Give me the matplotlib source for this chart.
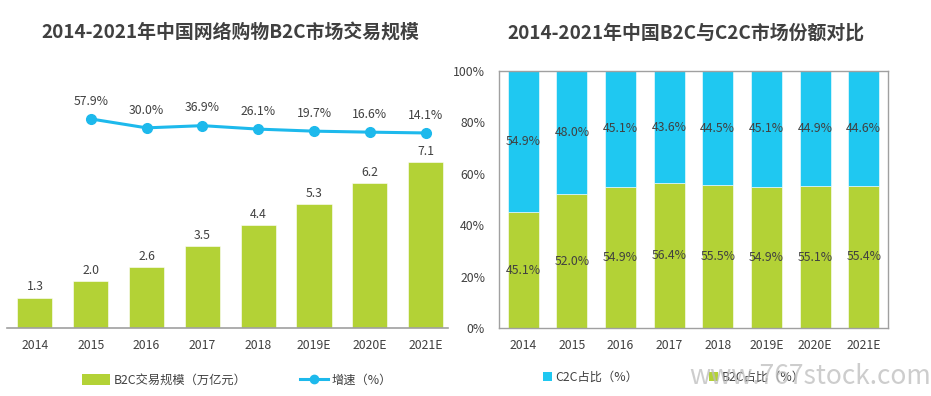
import matplotlib
matplotlib.use("Agg")
import matplotlib.pyplot as plt
from matplotlib.patches import Patch
from matplotlib.lines import Line2D

plt.rcParams['font.family'] = ['Noto Sans CJK SC', 'DejaVu Sans']

years = ['2014', '2015', '2016', '2017', '2018', '2019E', '2020E', '2021E']
b2c_scale = [1.3, 2.0, 2.6, 3.5, 4.4, 5.3, 6.2, 7.1]
growth = [57.9, 30.0, 36.9, 26.1, 19.7, 16.6, 14.1]
growth_years = years[1:]
b2c_share = [45.1, 52.0, 54.9, 56.4, 55.5, 54.9, 55.1, 55.4]
c2c_share = [54.9, 48.0, 45.1, 43.6, 44.5, 45.1, 44.9, 44.6]

GREEN = '#B3D236'
BLUE = '#1FC8F1'
LINE = '#1DB9EC'
TXT = '#404040'
FS = 8.8

W, H = 931, 396
fig = plt.figure(figsize=(W / 100, H / 100), dpi=100)

def box(x0, y0, x1, y1):
    return [x0 / W, 1 - y1 / H, (x1 - x0) / W, (y1 - y0) / H]

# ---------- left chart ----------
ax = fig.add_axes(box(7, 100, 448, 328))
x = list(range(len(years)))
ax.bar(x, b2c_scale, width=0.63, color=GREEN, edgecolor='white', linewidth=0.4, zorder=2)
for xi, v in zip(x, b2c_scale):
    ax.text(xi, v + 0.18, f'{v:.1f}', ha='center', va='bottom', fontsize=FS, color=TXT)
ax.set_xlim(-0.5, 7.4)
ax.set_ylim(0, 9.74)
ax.set_yticks([])
for s in ['top', 'right', 'left']:
    ax.spines[s].set_visible(False)
ax.spines['bottom'].set_color('#A0A0A0')
ax.spines['bottom'].set_linewidth(1.2)
ax.set_xticks(x)
ax.set_xticklabels(years, fontsize=FS, color=TXT)
ax.tick_params(axis='x', length=0, pad=8)

ax2 = ax.twinx()
gx = [years.index(y) for y in growth_years]
ax2.plot(gx, growth, color=LINE, linewidth=2.2, marker='o', markersize=7, zorder=3)
for xi, v in zip(gx, growth):
    ax2.text(xi, v + 35, f'{v:.1f}%', ha='center', va='bottom', fontsize=FS, color=TXT)
ax2.set_ylim(-595, 117)
ax2.set_yticks([])
for s in ['top', 'right', 'left', 'bottom']:
    ax2.spines[s].set_visible(False)

fig.text(230 / W, 1 - 33 / H, '2014-2021年中国网络购物B2C市场交易规模',
         ha='center', va='center', fontsize=13.6, fontweight='bold', color=TXT)

leg1 = [Patch(facecolor=GREEN, edgecolor='none', label='B2C交易规模（万亿元）'),
        Line2D([0], [0], color=LINE, linewidth=2.2, marker='o', markersize=6, label='增速（%）')]
fig.legend(handles=leg1, loc='center', bbox_to_anchor=(237 / W, 1 - 380 / H), ncol=2,
           frameon=False, fontsize=FS, labelcolor=TXT, columnspacing=4.3,
           handlelength=2.3, handleheight=1.0, handletextpad=0.3)

# ---------- right chart ----------
bx = fig.add_axes(box(499, 71, 888, 328))
bx.bar(x, b2c_share, width=0.64, color=GREEN, edgecolor='white', linewidth=0.4, zorder=2)
bx.bar(x, c2c_share, bottom=b2c_share, width=0.64, color=BLUE, edgecolor='white', linewidth=0.4, zorder=2)
for xi, b, c in zip(x, b2c_share, c2c_share):
    bx.text(xi, b / 2, f'{b:.1f}%', ha='center', va='center', fontsize=FS, color=TXT)
    bx.text(xi, b + c / 2, f'{c:.1f}%', ha='center', va='center', fontsize=FS, color=TXT)
bx.set_xlim(-0.5, 7.5)
bx.set_ylim(0, 100)
bx.set_yticks([0, 20, 40, 60, 80, 100])
bx.set_yticklabels(['0%', '20%', '40%', '60%', '80%', '100%'], fontsize=FS, color=TXT)
bx.set_xticks(x)
bx.set_xticklabels(years, fontsize=FS, color=TXT)
bx.tick_params(axis='both', length=0)
bx.tick_params(axis='x', pad=8)
bx.tick_params(axis='y', pad=10)
for s in bx.spines.values():
    s.set_color('#A0A0A0')
    s.set_linewidth(1.0)

fig.text(686 / W, 1 - 33 / H, '2014-2021年中国B2C与C2C市场份额对比',
         ha='center', va='center', fontsize=13.6, fontweight='bold', color=TXT)

leg2 = [Patch(facecolor=BLUE, edgecolor='none', label='C2C占比（%）'),
        Patch(facecolor=GREEN, edgecolor='none', label='B2C占比（%）')]
fig.legend(handles=leg2, loc='center', bbox_to_anchor=(674 / W, 1 - 377 / H), ncol=2,
           frameon=False, fontsize=FS, labelcolor=TXT, columnspacing=5.8,
           handlelength=0.7, handleheight=0.7, handletextpad=0.3)

fig.text(931 / W, 1 - 377 / H, 'www.767stock.com', ha='right', va='center',
         fontsize=19, color='#BDBDBD', alpha=0.75, zorder=10)

fig.savefig('out.png', dpi=100, facecolor='white')
